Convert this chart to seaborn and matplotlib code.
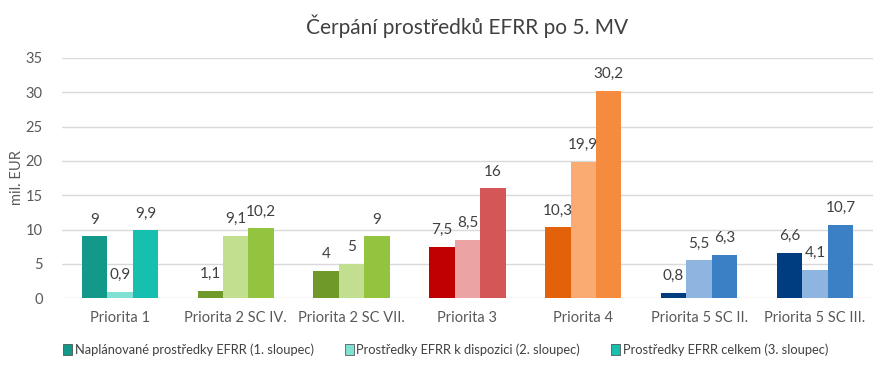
import pandas as pd
import numpy as np
import matplotlib.pyplot as plt
from matplotlib.patches import Patch
import seaborn as sns

categories = ['Priorita 1', 'Priorita 2 SC IV.', 'Priorita 2 SC VII.', 'Priorita 3',
              'Priorita 4', 'Priorita 5 SC II.', 'Priorita 5 SC III.']
series_names = ['Naplánované prostředky EFRR (1. sloupec)',
                'Prostředky EFRR k dispozici (2. sloupec)',
                'Prostředky EFRR celkem (3. sloupec)']
planned = [9, 1.1, 4, 7.5, 10.3, 0.8, 6.6]
available = [0.9, 9.1, 5, 8.5, 19.9, 5.5, 4.1]
total = [9.9, 10.2, 9, 16, 30.2, 6.3, 10.7]

# barvy podle skupiny (tmavá, světlá, střední)
group_colors = [
    ['#12998A', '#80E0D4', '#17C0AE'],
    ['#6F9A2A', '#C2DF90', '#93C43F'],
    ['#6F9A2A', '#C2DF90', '#93C43F'],
    ['#C00000', '#EBA3A3', '#D55656'],
    ['#E36209', '#F9AB72', '#F58B3F'],
    ['#003D80', '#8DB5E0', '#3B7FC4'],
    ['#003D80', '#8DB5E0', '#3B7FC4'],
]

df = pd.DataFrame({
    'kategorie': categories * 3,
    'serie': [series_names[0]] * 7 + [series_names[1]] * 7 + [series_names[2]] * 7,
    'hodnota': planned + available + total,
})

sns.set_style('white')
plt.rcParams['font.family'] = ['Lato', 'DejaVu Sans']

fig = plt.figure(figsize=(8.91, 3.69), dpi=100)
ax = fig.add_axes([0.0696, 0.192, 0.91, 0.651])

sns.barplot(data=df, x='kategorie', y='hodnota', hue='serie', order=categories,
            hue_order=series_names, width=0.66, ax=ax, legend=False,
            saturation=1, linewidth=0)

for h, cont in enumerate(ax.containers):
    for i, bar in enumerate(cont):
        bar.set_facecolor(group_colors[i][h])
        v = bar.get_height()
        txt = ('%g' % v).replace('.', ',')
        ax.annotate(txt, (bar.get_x() + bar.get_width() / 2, v), xytext=(0, 7),
                    textcoords='offset points', ha='center', va='bottom',
                    fontsize=11, color='#404040')

ax.set_ylim(0, 35)
ax.set_yticks(range(0, 36, 5))
ax.yaxis.grid(True, color='#D9D9D9', linewidth=1)
ax.set_axisbelow(True)
for s in ax.spines.values():
    s.set_visible(False)
ax.tick_params(axis='both', length=0, labelsize=10.5, colors='#595959')
ax.tick_params(axis='y', pad=14)
ax.tick_params(axis='x', pad=9)
ax.set_xlabel('')
ax.set_ylabel('mil. EUR', fontsize=10.5, color='#595959', labelpad=1)

ax.set_title('Čerpání prostředků EFRR po 5. MV', fontsize=15, color='#404040', pad=17)

handles = [Patch(facecolor=group_colors[0][k], edgecolor='#404040', linewidth=0.5)
           for k in range(3)]
fig.legend(handles, series_names, loc='center', bbox_to_anchor=(0.5, 0.052), ncol=3,
           frameon=False, fontsize=9.3, handlelength=0.7, handleheight=0.9,
           handletextpad=0.2, columnspacing=2.4, labelcolor='#404040')

fig.savefig('out.png', dpi=100)
